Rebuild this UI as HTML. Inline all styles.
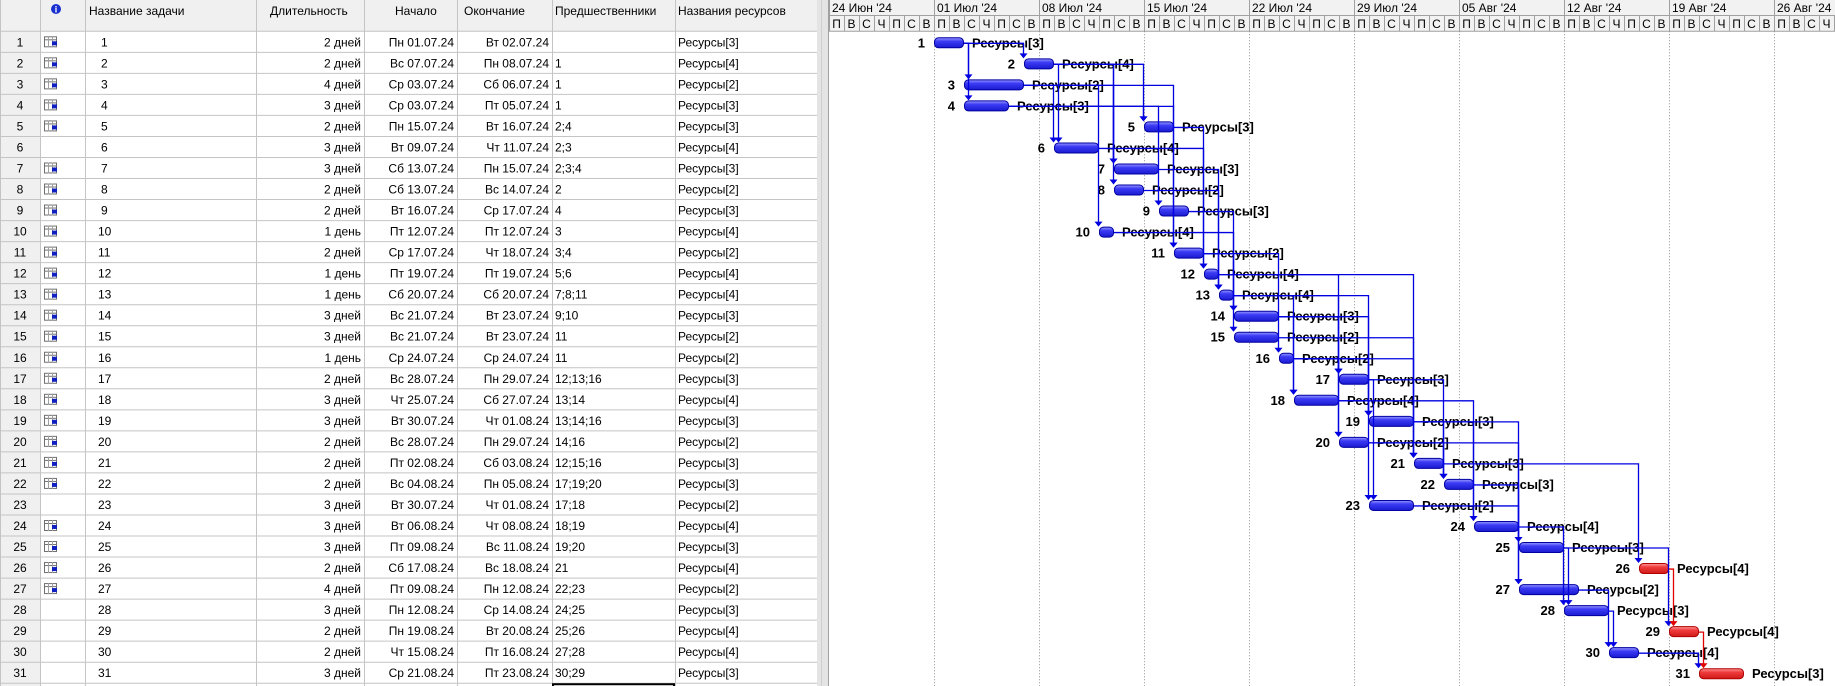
<!DOCTYPE html>
<html><head><meta charset="utf-8">
<style>
html,body{margin:0;padding:0;background:#fff;}
body{width:1835px;height:686px;overflow:hidden;position:relative;font-family:"Liberation Sans",Arial,sans-serif;}
svg{position:absolute;left:0;top:0;}
</style></head>
<body>
<svg id="chart" width="1835" height="686" xmlns="http://www.w3.org/2000/svg"></svg>
<script>
// ---- data ----
const taskIds = [1,2,3,4,5,6,7,8,9,10,11,12,13,14,15,16,17,18,19,20,21,22,23,24,25,26,27,28,29,30,31];
const taskStarts = ["2024-07-01","2024-07-07","2024-07-03","2024-07-03","2024-07-15","2024-07-09","2024-07-13","2024-07-13","2024-07-16","2024-07-12","2024-07-17","2024-07-19","2024-07-20","2024-07-21","2024-07-21","2024-07-24","2024-07-28","2024-07-25","2024-07-30","2024-07-28","2024-08-02","2024-08-04","2024-07-30","2024-08-06","2024-08-09","2024-08-17","2024-08-09","2024-08-12","2024-08-19","2024-08-15","2024-08-21"];
const taskDurations = [2,2,4,3,2,3,3,2,2,1,2,1,1,3,3,1,2,3,3,2,2,2,3,3,3,2,4,3,2,2,3];
const taskPreds = [[],[1],[1],[1],[2,4],[2,3],[2,3,4],[2],[4],[3],[3,4],[5,6],[7,8,11],[9,10],[11],[11],[12,13,16],[13,14],[13,14,16],[14,16],[12,15,16],[17,19,20],[17,18],[18,19],[19,20],[21],[22,23],[24,25],[25,26],[27,28],[30,29]];
const taskResources = [3,4,2,3,3,4,3,2,3,4,2,4,4,3,2,2,3,4,3,2,3,3,2,4,3,4,2,3,4,4,3];
const criticalTasks = [26,29,31];
const noIconTasks = [6,23,28,29,30,31];
const weekLabels = ["24 Июн '24","01 Июл '24","08 Июл '24","15 Июл '24","22 Июл '24","29 Июл '24","05 Авг '24","12 Авг '24","19 Авг '24","26 Авг '24"];
const dayLetters = ["П","В","С","Ч","П","С","В"];

// ---- layout ----
const NS="http://www.w3.org/2000/svg";
const svg=document.getElementById('chart');
const X0=829, DAY=15, HDR=31.3, ROW=21.03;
const origin=new Date(2024,5,24);
const dows=["Вс","Пн","Вт","Ср","Чт","Пт","Сб"];
function parse(s){const p=s.split('-');return new Date(+p[0],+p[1]-1,+p[2]);}
function dayIdx(s){return Math.round((parse(s)-origin)/86400000);}
function xDay(d){return X0+d*DAY;}
function rowTop(i){return HDR+i*ROW;}
function fmt(d){return dows[d.getDay()]+" "+String(d.getDate()).padStart(2,'0')+"."+String(d.getMonth()+1).padStart(2,'0')+".24";}
function el(tag,attrs,parent){const e=document.createElementNS(NS,tag);for(const k in attrs)e.setAttribute(k,attrs[k]);(parent||svg).appendChild(e);return e;}
function txt(x,y,s,attrs,parent){const t=el('text',Object.assign({x:x,y:y,'font-size':12,fill:'#000'},attrs||{}),parent);t.textContent=s;return t;}

// defs
const defs=el('defs',{});
const gb=el('linearGradient',{id:'gb',x1:0,y1:0,x2:0,y2:1},defs);
el('stop',{offset:'0','stop-color':'#9a9aff'},gb);el('stop',{offset:'0.35','stop-color':'#3c3cf5'},gb);el('stop',{offset:'1','stop-color':'#1a1ad0'},gb);
const gr=el('linearGradient',{id:'gr',x1:0,y1:0,x2:0,y2:1},defs);
el('stop',{offset:'0','stop-color':'#ff9a9a'},gr);el('stop',{offset:'0.35','stop-color':'#f03c3c'},gr);el('stop',{offset:'1','stop-color':'#d01a1a'},gr);

// ---- table ----
const table=el('g',{});


el('rect',{x:0,y:0,width:817,height:HDR,fill:'#f0f0f0'},table);
el('rect',{x:0,y:HDR,width:40,height:686-HDR,fill:'#f0f0f0'},table);
const cols=[0,40,85,256,364,457,552,675,817];
const heads=[["",0],["",0],["Название задачи",89],["Длительность",290-20],["Начало",395],["Окончание",464],["Предшественники",555],["Названия ресурсов",678]];
heads.forEach((h,i)=>{if(h[0]){const t=txt(h[1],15,h[0],{},table);}});
// info icon
const ic=el('circle',{cx:56,cy:9,r:5,fill:'#1a2fd0'},table);


txt(56,12.5,'i',{'font-size':9,'font-weight':'bold',fill:'#fff','text-anchor':'middle'},table);
for(let i=0;i<=32;i++){const y=rowTop(i);el('line',{x1:0,x2:817,y1:y,y2:y,stroke:'#c4c4c4','stroke-width':1},table);}
cols.forEach(c=>el('line',{x1:c+0.5,x2:c+0.5,y1:0,y2:686,stroke:'#c4c4c4'},table));
taskIds.forEach((id,i)=>{
  const y=rowTop(i)+15;
  const g=el('g',{},table);
  
  
  txt(20,y,String(id),{'text-anchor':'middle'},g);
  if(noIconTasks.indexOf(id)<0){
    const ig=el('g',{},g);
    
    
    const yt=rowTop(i)+5;
    el('rect',{x:44.5,y:yt+0.5,width:12,height:10,fill:'#fff',stroke:'#707070'},ig);
    el('line',{x1:44,x2:57,y1:yt+3.5,y2:yt+3.5,stroke:'#707070'},ig);
    el('line',{x1:48.5,x2:48.5,y1:yt,y2:yt+11,stroke:'#a0a0a0'},ig);
    el('line',{x1:52.5,x2:52.5,y1:yt,y2:yt+11,stroke:'#a0a0a0'},ig);
    el('rect',{x:52,y:yt+5,width:5,height:4,fill:'#1020c0'},ig);
  }
  txt(id<10?101:98,y,String(id),{},g);
  const d=taskDurations[i];
  txt(361,y,d+(d===1?" день":" дней"),{'text-anchor':'end'},g);
  const s=parse(taskStarts[i]);const f=new Date(s.getTime()+(d-1)*86400000);
  txt(454,y,fmt(s),{'text-anchor':'end'},g);
  txt(549,y,fmt(f),{'text-anchor':'end'},g);
  txt(555,y,taskPreds[i].join(';'),{},g);
  txt(678,y,"Ресурсы["+taskResources[i]+"]",{},g);
});
el('rect',{x:553,y:rowTop(31)+1,width:121,height:8,fill:'none',stroke:'#000','stroke-width':2},table);

// splitter
const sp=el('rect',{x:817,y:0,width:12,height:686,fill:'#e4e4e4'});


el('line',{x1:821.5,x2:821.5,y1:0,y2:686,stroke:'#cfcfcf'});
el('line',{x1:828.5,x2:828.5,y1:0,y2:686,stroke:'#a0a0a0'});

// ---- timescale ----
const ts=el('g',{});


el('rect',{x:X0,y:0,width:1835-X0,height:HDR,fill:'#f2f2f2'},ts);
el('line',{x1:X0,x2:1835,y1:15.5,y2:15.5,stroke:'#a0a0a0'},ts);
el('line',{x1:X0,x2:1835,y1:HDR,y2:HDR,stroke:'#a0a0a0'},ts);
weekLabels.forEach((w,k)=>{
  const x=xDay(k*7);
  el('line',{x1:x+0.5,x2:x+0.5,y1:0,y2:HDR,stroke:'#a0a0a0'},ts);
  const t=txt(x+3,12,w,{},ts);
  
  
  for(let d=0;d<7;d++){
    const xd=xDay(k*7+d);
    if(d>0)el('line',{x1:xd+0.5,x2:xd+0.5,y1:15.5,y2:HDR,stroke:'#a0a0a0'},ts);
    txt(xd+7.5,28,dayLetters[d],{'text-anchor':'middle'},ts);
  }
  if(k>0){const gl=el('line',{x1:x+0.5,x2:x+0.5,y1:HDR,y2:686,stroke:'#909090','stroke-dasharray':'1,2'});
    
    }
});

// ---- bars & links ----
const links=el('g',{});


const bars=el('g',{});


function barGeom(i){const s=dayIdx(taskStarts[i]);const x1=xDay(s),x2=xDay(s+taskDurations[i]);const y=rowTop(i)+6;return {x1,x2,y,h:11,mid:y+5.5};}
taskIds.forEach((id,i)=>{
  const b=barGeom(i);const crit=criticalTasks.indexOf(id)>=0;
  const r=el('rect',{x:b.x1+0.5,y:b.y+0.5,width:b.x2-b.x1-1,height:b.h-1,rx:4,ry:4,fill:crit?'url(#gr)':'url(#gb)',stroke:crit?'#b00000':'#0000a0','stroke-width':1},bars);
  
  
  const l1=txt(b.x1-9,b.y+10,String(id),{'font-size':13,'font-weight':'bold','text-anchor':'end'},bars);
  
  
  const l2=txt(b.x2+8,b.y+10,"Ресурсы["+taskResources[i]+"]",{'font-size':13,'font-weight':'bold'},bars);
  
  
});
taskIds.forEach((id,i)=>{
  const b=barGeom(i);
  taskPreds[i].forEach(p=>{
    const j=taskIds.indexOf(p);const a=barGeom(j);
    const crit=criticalTasks.indexOf(id)>=0&&criticalTasks.indexOf(p)>=0;
    const col=crit?'#e00000':'#0000e0';
    const vx=Math.round(Math.max(b.x1-1,a.x2+4))+0.5;
    const pl=el('polyline',{points:`${a.x2},${a.mid+0.5} ${vx},${a.mid+0.5} ${vx},${b.y-4}`,fill:'none',stroke:col,'stroke-width':1.3},links);
    
    
    el('polygon',{points:`${vx-4},${b.y-5} ${vx+4},${b.y-5} ${vx},${b.y}`,fill:col},links);
  });
});
svg.appendChild(links);
</script>
</body></html>
